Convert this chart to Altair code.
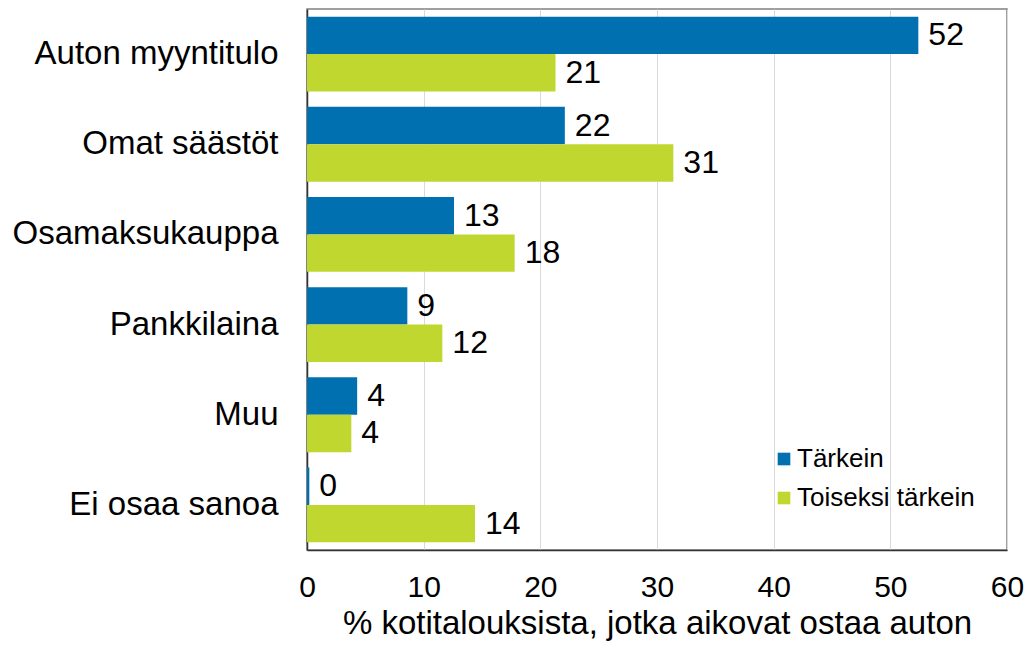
import altair as alt
import pandas as pd

categories = ["Auton myyntitulo", "Omat säästöt", "Osamaksukauppa", "Pankkilaina", "Muu", "Ei osaa sanoa"]
series = ["Tärkein", "Toiseksi tärkein"]
tarkein = [52.4, 22.1, 12.6, 8.6, 4.3, 0.2]
toiseksi = [21.3, 31.4, 17.8, 11.6, 3.8, 14.4]
tarkein_labels = ["52", "22", "13", "9", "4", "0"]
toiseksi_labels = ["21", "31", "18", "12", "4", "14"]
x_ticks = [0, 10, 20, 30, 40, 50, 60]
colors = ["#0070B0", "#C0D730"]
x_title = "% kotitalouksista, jotka aikovat ostaa auton"

rows = []
for i, c in enumerate(categories):
    rows.append({"category": c, "series": series[0], "value": tarkein[i], "label": tarkein_labels[i]})
    rows.append({"category": c, "series": series[1], "value": toiseksi[i], "label": toiseksi_labels[i]})
df = pd.DataFrame(rows)

FONT = "Liberation Sans"

base = alt.Chart(df).encode(
    y=alt.Y(
        "category:N",
        sort=categories,
        scale=alt.Scale(paddingInner=0.17, paddingOuter=0.085),
        axis=alt.Axis(
            title=None, ticks=False, labelPadding=29, labelFontSize=33,
            labelColor="black", labelFont=FONT, domainColor="#333333",
            domainWidth=1.5, grid=False, labelLimit=400,
        ),
    ),
    yOffset=alt.YOffset("series:N", sort=series, scale=alt.Scale(paddingInner=0, paddingOuter=0)),
)

bars = base.mark_bar().encode(
    x=alt.X(
        "value:Q",
        scale=alt.Scale(domain=[0, 60], nice=False),
        axis=alt.Axis(
            values=x_ticks, title=x_title, ticks=False, labelPadding=22,
            labelFontSize=30, labelColor="black", labelFont=FONT,
            titleFontSize=33, titleFont=FONT, titleFontWeight="normal",
            titleColor="black", titlePadding=5, grid=True,
            gridColor="#d9d9d9", gridWidth=1, domainColor="#333333",
            domainWidth=1.5, labelFlush=False,
        ),
    ),
    color=alt.Color(
        "series:N",
        scale=alt.Scale(domain=series, range=colors),
        legend=alt.Legend(
            title=None, orient="none", legendX=464, legendY=437,
            symbolType="square", symbolSize=160, symbolStrokeWidth=0,
            labelFontSize=26, labelFont=FONT, labelColor="black",
            rowPadding=13, labelOffset=0, padding=0, labelLimit=400,
        ),
    ),
)

text = base.mark_text(
    align="left", baseline="middle", dx=10, fontSize=32, font=FONT, color="black"
).encode(x="value:Q", text="label:N")

chart = (
    alt.layer(bars, text)
    .properties(
        width=700,
        height=541,
        autosize=alt.AutoSizeParams(type="none"),
        padding={"left": 299, "top": 1, "right": 17, "bottom": 92},
    )
    .configure(font=FONT)
    .configure_view(stroke="#808080", strokeWidth=1.5)
)

chart.save("out.html", embed_options={"renderer": "svg", "actions": False})
